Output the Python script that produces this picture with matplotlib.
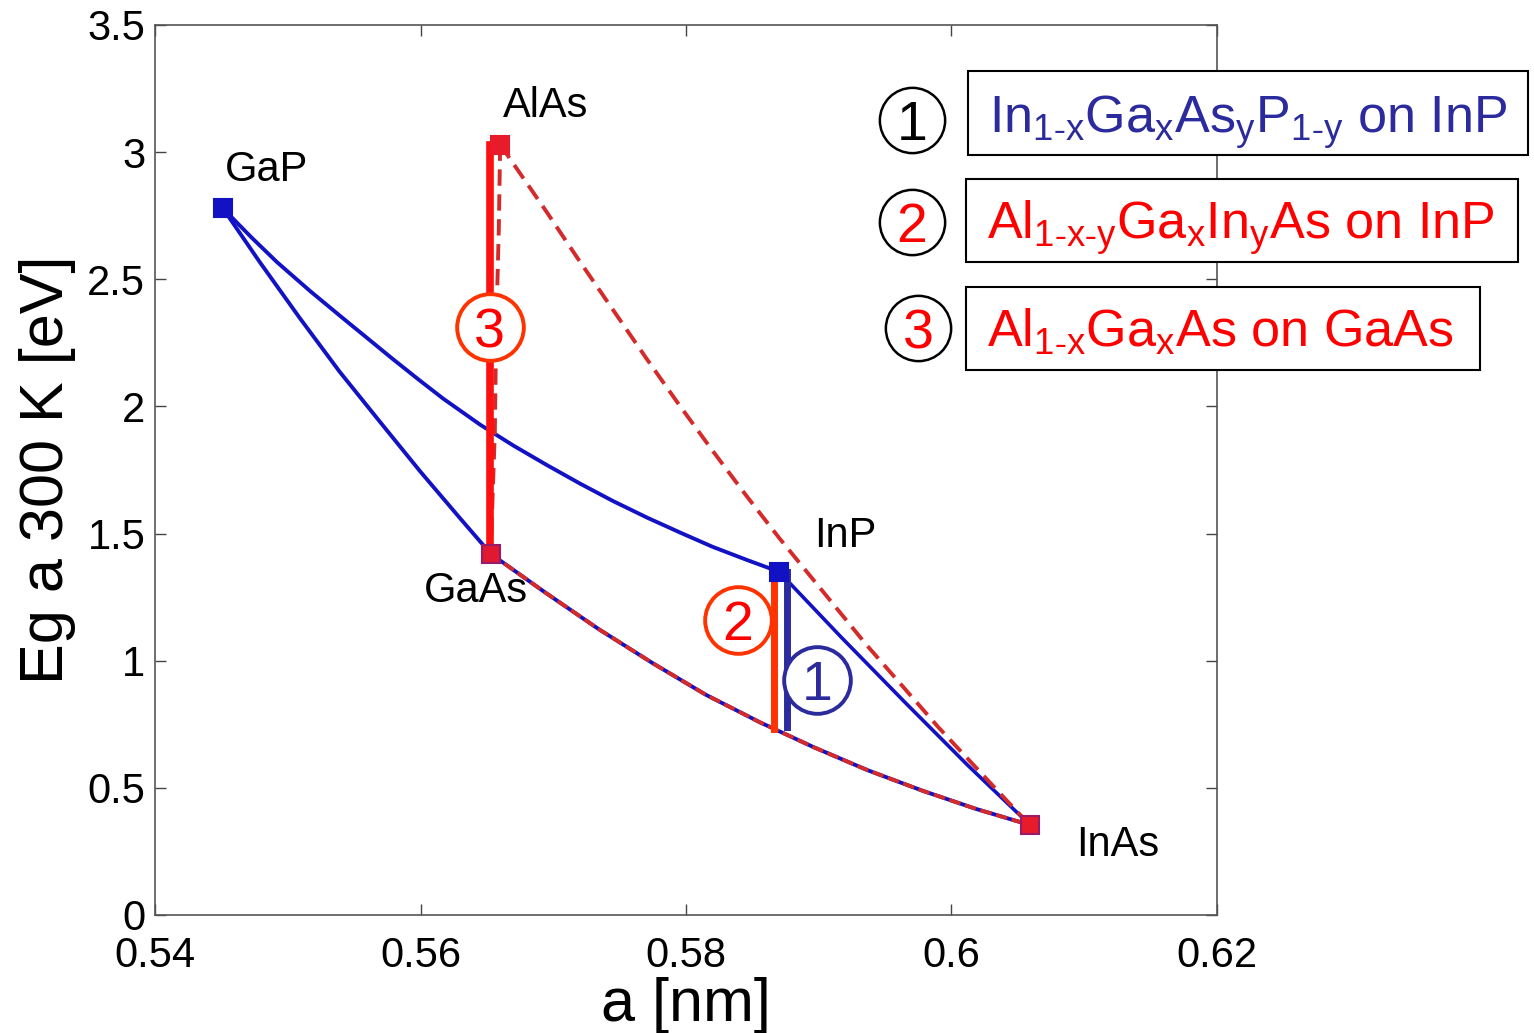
import matplotlib
matplotlib.use('Agg')
import matplotlib.pyplot as plt
from matplotlib.patches import Rectangle

plt.rcParams['font.family'] = ['Liberation Sans', 'DejaVu Sans']
plt.rcParams['mathtext.default'] = 'regular'

# binary end points: lattice constant [nm], gap [eV]
names = ['GaP', 'AlAs', 'GaAs', 'InP', 'InAs']
a_nm = [0.5451, 0.5660, 0.5653, 0.5870, 0.6059]
eg = [2.78, 3.03, 1.42, 1.35, 0.354]

# curves
gap_inp_a = [0.5451, 0.5472, 0.5492, 0.5517, 0.5542, 0.5561, 0.5579, 0.5598, 0.5617, 0.5645,
             0.5670, 0.5695, 0.5720, 0.5745, 0.5771, 0.5796, 0.5820, 0.5846, 0.5870]
gap_inp_e = [2.78, 2.668, 2.567, 2.453, 2.345, 2.264, 2.187, 2.108, 2.031, 1.928,
             1.846, 1.770, 1.697, 1.628, 1.562, 1.503, 1.448, 1.396, 1.35]
gap_gaas_a = [0.5451, 0.5479, 0.5509, 0.5539, 0.5570, 0.5600, 0.5630, 0.5653]
gap_gaas_e = [2.78, 2.567, 2.348, 2.137, 1.936, 1.743, 1.559, 1.42]
gaas_inas_a = [0.5653, 0.5694, 0.5734, 0.5775, 0.5815, 0.5856, 0.5897, 0.5937, 0.5978,
               0.6018, 0.6059]
gaas_inas_e = [1.42, 1.268, 1.125, 0.990, 0.866, 0.757, 0.658, 0.569, 0.489, 0.418, 0.354]
inp_inas_a = [0.5870, 0.5917, 0.5965, 0.6012, 0.6052]
inp_inas_e = [1.35, 1.092, 0.836, 0.590, 0.39]
alas_inas_a = [0.5660, 0.5695, 0.5720, 0.5745, 0.5770, 0.5795, 0.5820, 0.5845, 0.5870,
               0.5936, 0.5990, 0.6040, 0.6059]
alas_inas_e = [3.03, 2.765, 2.57, 2.38, 2.19, 2.005, 1.826, 1.652, 1.484,
               1.062, 0.739, 0.459, 0.354]
alas_gaas_a = [0.5660, 0.5659, 0.5657, 0.5656, 0.5654, 0.5653]
alas_gaas_e = [3.03, 2.70, 2.30, 1.90, 1.60, 1.42]

# lattice matched ranges
alga_as_a = 0.5652
alga_as_e = [1.42, 3.03]
alingaas_a = 0.5866
alingaas_e = [1.34, 0.73]
ingaasp_a = 0.5876
ingaasp_e = [1.35, 0.74]

xticks = [0.54, 0.56, 0.58, 0.60, 0.62]
xticklabels = ['0.54', '0.56', '0.58', '0.6', '0.62']
yticks = [0, 0.5, 1, 1.5, 2, 2.5, 3, 3.5]
yticklabels = ['0', '0.5', '1', '1.5', '2', '2.5', '3', '3.5']

legend_texts = ['In$_{1\u2011x}$Ga$_x$As$_y$P$_{1\u2011y}$ on InP',
                'Al$_{1\u2011x\u2011y}$Ga$_x$In$_y$As on InP',
                'Al$_{1\u2011x}$Ga$_x$As on GaAs']

blue = '#1212C4'
dred = '#D42A2A'
navy = '#2B2B9E'
orange = '#FF3300'

fig = plt.figure(figsize=(15.34, 10.33), dpi=100)
ax = fig.add_axes([155 / 1534, 1 - 915 / 1033, 1062 / 1534, 890 / 1033])

ax.plot(gap_inp_a, gap_inp_e, color=blue, lw=2.8, solid_joinstyle='round')
ax.plot(gap_gaas_a, gap_gaas_e, color=blue, lw=2.8, solid_joinstyle='round')
ax.plot(inp_inas_a, inp_inas_e, color=blue, lw=2.6)
ax.plot(gaas_inas_a, gaas_inas_e, color=blue, lw=2.8)
ax.plot(gaas_inas_a, gaas_inas_e, color=dred, lw=2.8, dashes=(3, 1.2))
ax.plot(alas_inas_a, alas_inas_e, color=dred, lw=2.8, dashes=(4.2, 2.2))
ax.plot(alas_gaas_a, alas_gaas_e, color=dred, lw=2.8, dashes=(4.2, 2.2))

ax.plot([alga_as_a, alga_as_a], alga_as_e, color='#FF1010', lw=5.5)
ax.plot([alingaas_a, alingaas_a], alingaas_e, color=orange, lw=5)
ax.plot([ingaasp_a, ingaasp_a], ingaasp_e, color=navy, lw=5)

mcol = [blue, '#E81B2B', '#E01830', blue, '#E81B2B']
mec = [blue, '#E81B2B', '#9A1A6A', blue, '#9A1A6A']
for i in range(len(names)):
    ax.plot(a_nm[i], eg[i], 's', ms=13, color=mcol[i], mec=mec[i], mew=1.5, zorder=5)

lab_pos = {'GaP': (0.5453, 2.93, 'left'), 'AlAs': (0.5694, 3.18, 'center'),
           'GaAs': (0.5642, 1.275, 'center'), 'InP': (0.5920, 1.49, 'center'),
           'InAs': (0.6125, 0.275, 'center')}
for n in names:
    x, y, ha = lab_pos[n]
    ax.text(x, y, n, fontsize=30, ha=ha, va='center')

# circled numbers in the plot
circ = [('3', 0.5652, 2.312, orange, 'red'),
        ('2', 0.5839, 1.16, orange, 'red'),
        ('1', 0.5899, 0.924, navy, navy)]
for t, x, y, ec, tc in circ:
    ax.plot(x, y, 'o', ms=48, mfc='white', mec=ec, mew=2.8, zorder=6)
    ax.text(x, y, t, fontsize=40, color=tc, ha='center', va='center_baseline', zorder=7)

# legend boxes
boxes = [(0.60124, 2.989, 0.04219, 0.330), (0.60109, 2.568, 0.04158, 0.326),
         (0.60109, 2.143, 0.03872, 0.327)]
leg_base = [3.075, 2.657, 2.234]
leg_colors = [navy, 'red', 'red']
leg_circ = [(0.59702, 3.126, 'black'), (0.59702, 2.725, 'red'), (0.59748, 2.308, 'red')]
for i in range(3):
    x0, y0, w, h = boxes[i]
    ax.add_patch(Rectangle((x0, y0), w, h, fc='white', ec='black', lw=1.5,
                           clip_on=False, zorder=8))
    ax.text(x0 + 0.0016, leg_base[i], legend_texts[i], fontsize=37.5, color=leg_colors[i],
            ha='left', va='baseline', clip_on=False, zorder=9)
    cx, cy, tc = leg_circ[i]
    ax.plot(cx, cy, 'o', ms=47, mfc='white', mec='black', mew=1.8, clip_on=False, zorder=8)
    ax.text(cx, cy, str(i + 1), fontsize=40, color=tc, ha='center', va='center_baseline',
            zorder=9)

ax.set_xlim(0.54, 0.62)
ax.set_ylim(0, 3.5)
ax.set_xticks(xticks)
ax.set_xticklabels(xticklabels)
ax.set_yticks(yticks)
ax.set_yticklabels(yticklabels)
ax.tick_params(direction='in', length=8, width=1, top=True, right=True,
               labelsize=30, color='#444444')
ax.tick_params(axis='x', pad=15)
ax.tick_params(axis='y', pad=7)
for s in ax.spines.values():
    s.set_color('#555555')
    s.set_linewidth(1.2)

ax.set_xlabel('a [nm]', fontsize=44, labelpad=1)
ax.set_ylabel('Eg a 300 K [eV]', fontsize=44, labelpad=8)

fig.savefig('out.png', dpi=100)
